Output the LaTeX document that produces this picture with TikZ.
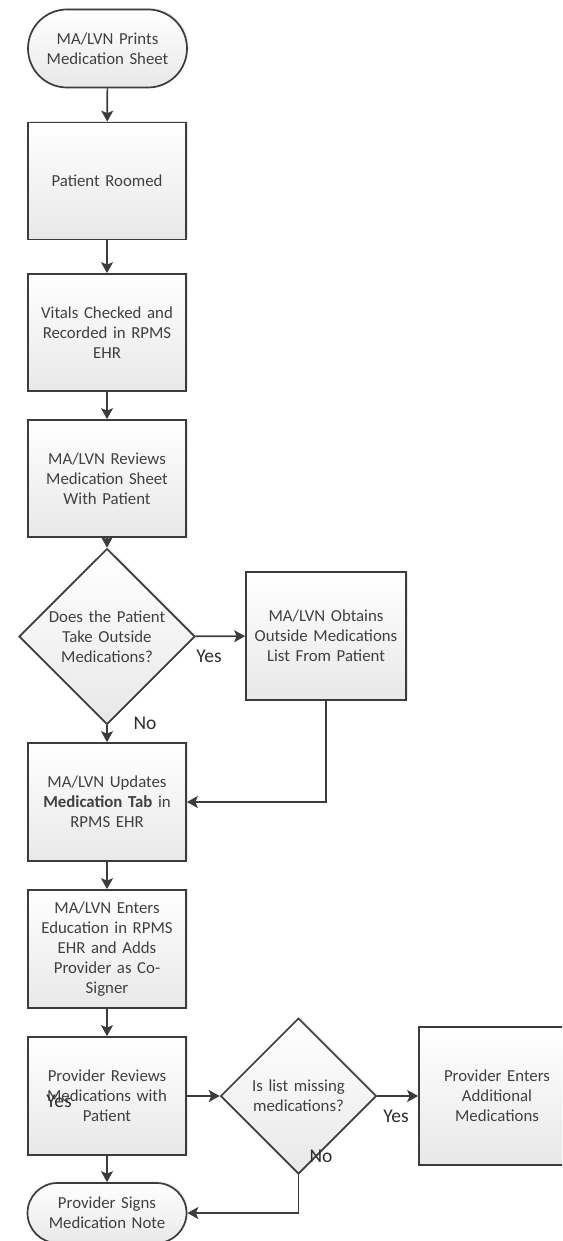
\documentclass[tikz,border=0pt]{standalone}
\usepackage{fontspec}
\setmainfont{Carlito}
\usetikzlibrary{shapes.geometric,shapes.misc,arrows.meta,shadows}
\definecolor{edge}{HTML}{3C3C3C}
\definecolor{txt}{HTML}{404040}
\definecolor{lbl}{HTML}{2E2E2E}
\definecolor{fillbot}{HTML}{E8E8E8}
\tikzset{
  base/.style={draw=edge, line width=1.7pt, top color=white, bottom color=fillbot,
    text=txt, font=\fontsize{16.8pt}{20pt}\selectfont, align=center, inner sep=0pt,
    drop shadow={opacity=0.18, shadow xshift=1.5pt, shadow yshift=1.5pt}},
  procbox/.style={base, rectangle, minimum width=158pt, minimum height=117pt, text width=152pt},
  termbox/.style={base, rounded rectangle, minimum width=159pt, text width=140pt},
  decbox/.style={base, diamond, text width=124pt},
  conn/.style={draw=edge, line width=1.7pt, -{Stealth[length=11pt,width=12pt,inset=2.5pt]}},
  lab/.style={text=lbl, font=\fontsize{19.5pt}{22pt}\selectfont, inner sep=0pt}
}
\begin{document}
\begin{tikzpicture}[x=1pt,y=-1pt]
\useasboundingbox (0,0) rectangle (562,1241);
\clip (0,0) rectangle (562,1241);
\fill[white] (0,0) rectangle (562,1241);
\node[termbox, minimum height=78pt] (start) at (107.5,48.5) {MA/LVN Prints\\Medication Sheet};
\node[procbox] (roomed) at (107,181) {Patient Roomed};
\node[procbox] (vitals) at (107,332.5) {Vitals Checked and\\Recorded in RPMS\\EHR};
\node[procbox] (reviews) at (107,478.5) {MA/LVN Reviews\\Medication Sheet\\With Patient};
\node[decbox, minimum width=176pt, minimum height=149pt] (d1) at (107,636.5) {Does the Patient\\Take Outside\\Medications?};
\node[procbox, minimum width=160pt, minimum height=128pt] (obtain) at (326,636) {MA/LVN Obtains\\Outside Medications\\List From Patient};
\node[procbox, minimum height=118pt] (updates) at (107,802) {MA/LVN Updates\\\textbf{Medication Tab} in\\RPMS EHR};
\node[procbox, minimum height=118pt] (educ) at (107,949) {MA/LVN Enters\\Education in RPMS\\EHR and Adds\\Provider as Co-\\Signer};
\node[procbox, minimum height=118pt] (provrev) at (107,1096) {Provider Reviews\\Medications with\\Patient};
\node[decbox, minimum width=155pt, minimum height=118pt] (d2) at (298.5,1096) {Is list missing\\medications?};
\node[procbox, minimum width=156pt, minimum height=138pt] (enters) at (497,1096) {Provider Enters\\Additional\\Medications};
\node[termbox, minimum height=60pt] (endt) at (107,1213) {Provider Signs\\Medication Note};
\coordinate (bend1) at (obtain.south |- updates.east);
\coordinate (bend2) at (d2.south |- endt.east);
\draw[conn] (start) -- (roomed);
\draw[conn] (roomed) -- (vitals);
\draw[conn] (vitals) -- (reviews);
\draw[conn] (reviews) -- (d1);
\draw[conn] (d1) -- (obtain);
\draw[conn] (d1) -- (updates);
\draw[conn] (obtain.south) -- (bend1) -- (updates.east);
\draw[conn] (updates) -- (educ);
\draw[conn] (educ) -- (provrev);
\draw[conn] (provrev) -- (d2);
\draw[conn] (d2) -- (enters);
\draw[conn] (provrev) -- (endt);
\draw[conn] (d2.south) -- (bend2) -- (endt.east);
\node[lab] (yes1) at (209,656) {Yes};
\node[lab] (no1) at (145,723) {No};
\node[lab] (yes2) at (396,1116) {Yes};
\node[lab] (no2) at (321,1156) {No};
\node[lab] (yes3) at (59,1101) {Yes};
\end{tikzpicture}
\end{document}
